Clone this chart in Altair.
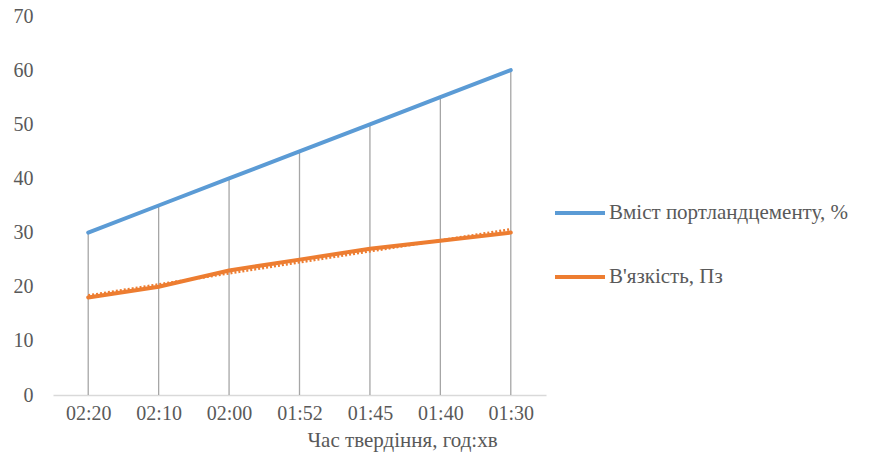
import altair as alt
import pandas as pd

times = ["02:20", "02:10", "02:00", "01:52", "01:45", "01:40", "01:30"]
cement = [30, 35, 40, 45, 50, 55, 60]
viscosity = [18, 20, 23, 25, 27, 28.5, 30]
series_names = ["Вміст портландцементу, %", "В'язкість, Пз"]
colors = ["#5b9bd5", "#ed7d31"]

rows = []
for i, t in enumerate(times):
    rows.append({"idx": i + 1, "time": t, "series": series_names[0], "value": cement[i]})
    rows.append({"idx": i + 1, "time": t, "series": series_names[1], "value": viscosity[i]})
df = pd.DataFrame(rows)
drop = pd.DataFrame({"idx": list(range(1, len(times) + 1)), "top": cement})

label_js = "[" + ",".join("'" + t + "'" for t in times) + "][datum.value-1]"

FONT = "Liberation Serif"
GRAY = "#595959"

x_enc = alt.X(
    "idx:Q",
    scale=alt.Scale(domain=[0.5, len(times) + 0.5], nice=False, zero=False),
    axis=alt.Axis(
        values=list(range(1, len(times) + 1)),
        labelExpr=label_js,
        title="Час твердіння, год:хв",
        grid=False,
        ticks=False,
        domainColor="#d9d9d9",
        domainWidth=1.3,
        labelFont=FONT,
        labelFontSize=20,
        labelColor=GRAY,
        labelPadding=8,
        titleFont=FONT,
        titleFontSize=21,
        titleFontWeight="normal",
        titleColor=GRAY,
        titleX=349,
        titleY=34,
        titleAlign="center",
        titleBaseline="top",
    ),
)
y_scale = alt.Scale(domain=[0, 70], nice=False)
y_axis = alt.Axis(
    values=list(range(0, 71, 10)),
    title=None,
    grid=False,
    ticks=False,
    domain=False,
    labelFont=FONT,
    labelFontSize=20,
    labelColor=GRAY,
    labelPadding=20,
    labelFlush=False,
)

base = alt.Chart(df)

rules = alt.Chart(drop).mark_rule(color="#a6a6a6", strokeWidth=1.3).encode(
    x=alt.X("idx:Q", scale=alt.Scale(domain=[0.5, len(times) + 0.5], nice=False, zero=False)),
    y=alt.Y("top:Q", scale=y_scale, axis=y_axis),
    y2=alt.datum(0),
)

lines = base.mark_line(strokeWidth=4, strokeCap="round").encode(
    x=x_enc,
    y=alt.Y("value:Q", scale=y_scale, axis=y_axis),
    color=alt.Color(
        "series:N",
        scale=alt.Scale(domain=series_names, range=colors),
        legend=alt.Legend(
            title=None,
            orient="none",
            legendX=500,
            legendY=170,
            symbolType="stroke",
            symbolSize=2500,
            symbolStrokeWidth=4,
            labelFont=FONT,
            labelFontSize=21,
            labelColor=GRAY,
            labelOffset=2,
            labelLimit=400,
            rowPadding=27,
        ),
    ),
)

trend = (
    base.transform_filter(alt.datum.series == series_names[1])
    .transform_regression("idx", "value")
    .mark_line(strokeWidth=2.5, strokeDash=[2, 2], color=colors[1])
    .encode(x="idx:Q", y="value:Q")
)

chart = (
    alt.layer(rules, lines, trend)
    .properties(
        width=493,
        height=379,
        autosize=alt.AutoSizeParams(type="none"),
        padding={"left": 45, "top": 8, "right": 315, "bottom": 59},
    )
    .configure(background="white", view=alt.ViewConfig(stroke=None), font=FONT)
)

chart.save("out.html", embed_options={"renderer": "svg", "actions": False})
